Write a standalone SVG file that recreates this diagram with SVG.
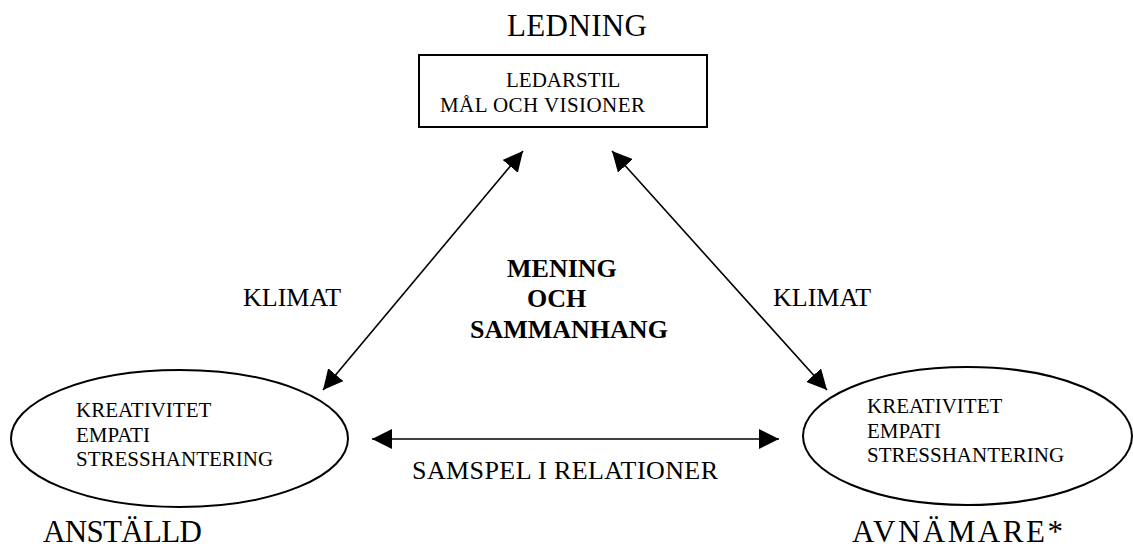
<svg xmlns="http://www.w3.org/2000/svg" width="1133" height="548" viewBox="0 0 1133 548">
<style>
  text { font-family: "Liberation Serif", "Times New Roman", serif; fill: #000; }
  .big { font-size: 31px; }
  .small { font-size: 21px; }
  .mid { font-size: 26px; }
  .bold { font-size: 26px; font-weight: bold; }
  .shape { fill: #fff; stroke: #000; stroke-width: 2; }
  .conn { stroke: #000; stroke-width: 1.6; fill: none; marker-start: url(#ah); marker-end: url(#ah); }
</style>
<defs>
  <marker id="ah" viewBox="0 0 20 20" refX="20" refY="10" markerWidth="20" markerHeight="20" markerUnits="userSpaceOnUse" orient="auto-start-reverse">
    <path d="M0,0 L20,10 L0,20 z" fill="#000"/>
  </marker>
</defs>
<rect width="1133" height="548" fill="#fff"/>
<g id="connectors">
  <line class="conn" x1="523" y1="151" x2="323" y2="390"/>
  <line class="conn" x1="612" y1="151" x2="827" y2="390"/>
  <line class="conn" x1="372" y1="439" x2="779" y2="439"/>
  <text class="mid" x="243" y="306">KLIMAT</text>
  <text class="mid" x="773" y="306">KLIMAT</text>
  <text class="mid" x="412" y="479" textLength="306">SAMSPEL I RELATIONER</text>
</g>
<g id="ledning">
  <text class="big" x="507" y="36" textLength="140">LEDNING</text>
  <rect class="shape" x="419" y="55" width="288" height="72"/>
  <text class="small" x="506" y="87">LEDARSTIL</text>
  <text class="small" x="440" y="112" textLength="205">MÅL OCH VISIONER</text>
</g>
<g id="center">
  <text class="bold" x="507" y="277">MENING</text>
  <text class="bold" x="527" y="307">OCH</text>
  <text class="bold" x="470" y="338">SAMMANHANG</text>
</g>
<g id="anstalld">
  <ellipse class="shape" cx="179.5" cy="438.5" rx="168.5" ry="68.5"/>
  <text class="small" x="76" y="417">KREATIVITET</text>
  <text class="small" x="76" y="442">EMPATI</text>
  <text class="small" x="76" y="466">STRESSHANTERING</text>
  <text class="big" x="43" y="542" textLength="159">ANSTÄLLD</text>
</g>
<g id="avnamare">
  <ellipse class="shape" cx="967.5" cy="436" rx="164.5" ry="69"/>
  <text class="small" x="867" y="413">KREATIVITET</text>
  <text class="small" x="867" y="438">EMPATI</text>
  <text class="small" x="867" y="462">STRESSHANTERING</text>
  <text class="big" x="852" y="542" textLength="211">AVNÄMARE*</text>
</g>
</svg>
